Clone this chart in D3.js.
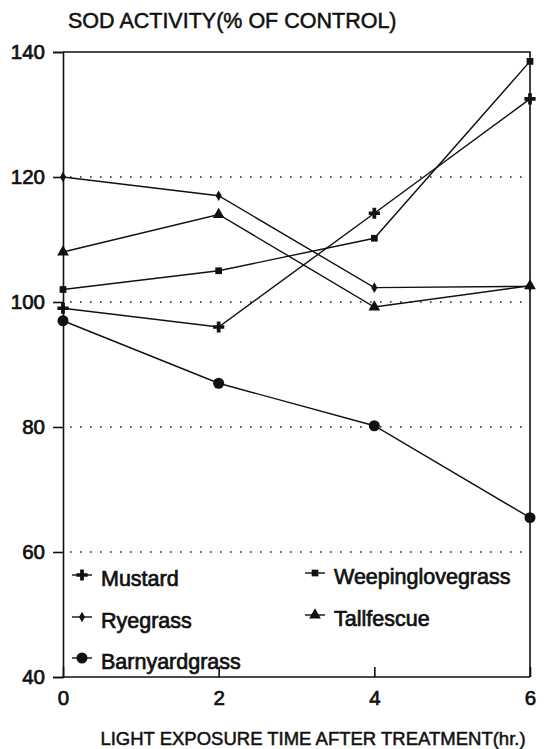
<!DOCTYPE html>
<html>
<head>
<meta charset="utf-8">
<script src="https://cdn.jsdelivr.net/npm/d3@7"></script>
<style>
  body { margin: 0; background: #fff; }
  text { font-family: "Liberation Sans", Arial, sans-serif; fill: #111; }
</style>
</head>
<body>
<svg id="chart" width="546" height="749"></svg>
<script>
// data
const hours = [0, 2, 4, 6];
const mustard = [99, 96, 114.2, 132.5];
const ryegrass = [120, 117, 102.3, 102.5];
const barnyardgrass = [97, 87, 80.2, 65.5];
const weepinglovegrass = [102, 105, 110.2, 138.5];
const tallfescue = [108, 114, 99.2, 102.6];
const yTicks = [40, 60, 80, 100, 120, 140];
const gridVals = [60, 80, 100, 120];

const series = [
  { name: "Mustard", vals: mustard, sym: d3.symbolCross, size: 70 },
  { name: "Ryegrass", vals: ryegrass, sym: d3.symbolDiamond, size: 32 },
  { name: "Barnyardgrass", vals: barnyardgrass, sym: d3.symbolCircle, size: 95 },
  { name: "Weepinglovegrass", vals: weepinglovegrass, sym: d3.symbolSquare, size: 45 },
  { name: "Tallfescue", vals: tallfescue, sym: d3.symbolTriangle, size: 60 }
];

const svg = d3.select("#chart");
const x = d3.scaleLinear().domain([0, 6]).range([63, 530]);
const y = d3.scaleLinear().domain([40, 140]).range([677, 52]);

// dotted grid
svg.append("g").selectAll("line").data(gridVals).join("line")
  .attr("x1", 70).attr("x2", x(6))
  .attr("y1", d => y(d)).attr("y2", d => y(d))
  .attr("stroke", "#222").attr("stroke-width", 1.6)
  .attr("stroke-dasharray", "1.6,8.4");

// frame top + right
svg.append("path")
  .attr("d", `M${x(0)},${y(140)}H${x(6)}V${y(40)}`)
  .attr("fill", "none").attr("stroke", "#111").attr("stroke-width", 1.6);

const yAxis = svg.append("g").attr("transform", `translate(${x(0)},0)`)
  .call(d3.axisLeft(y).tickValues(yTicks).tickSize(10).tickPadding(8));
const xAxis = svg.append("g").attr("transform", `translate(0,${y(40)})`)
  .call(d3.axisBottom(x).tickValues(hours).tickFormat(d3.format("d"))
    .tickSize(-10).tickPadding(13));

[yAxis, xAxis].forEach(a => {
  a.selectAll("path, line").attr("stroke", "#111").attr("stroke-width", 1.6);
  a.selectAll("text").attr("font-size", 20.5).attr("fill", "#111")
    .attr("font-family", "Liberation Sans, Arial, sans-serif")
    .attr("stroke", "#111").attr("stroke-width", 0.7);
});
xAxis.select(".domain").remove();
svg.append("line").attr("x1", x(0)).attr("x2", x(6))
  .attr("y1", y(40)).attr("y2", y(40)).attr("stroke", "#111").attr("stroke-width", 1.6);

// lines and markers
const line = d3.line().x((d, i) => x(hours[i])).y(d => y(d));
series.forEach(s => {
  svg.append("path").attr("d", line(s.vals))
    .attr("fill", "none").attr("stroke", "#111").attr("stroke-width", 1.4);
  svg.append("g").selectAll("path").data(s.vals).join("path")
    .attr("transform", (d, i) => `translate(${x(hours[i])},${y(d)})`)
    .attr("d", d3.symbol().type(s.sym).size(s.size))
    .attr("fill", "#111");
});

// legend
const legendPos = [
  { lx: 82, ly: 575 }, { lx: 82, ly: 617 }, { lx: 82, ly: 658 },
  { lx: 315, ly: 573 }, { lx: 315, ly: 615 }
];
series.forEach((s, i) => {
  const p = legendPos[i];
  svg.append("line").attr("x1", p.lx - 10).attr("x2", p.lx + 10)
    .attr("y1", p.ly).attr("y2", p.ly).attr("stroke", "#111").attr("stroke-width", 1.4);
  svg.append("path").attr("transform", `translate(${p.lx},${p.ly})`)
    .attr("d", d3.symbol().type(s.sym).size(s.size)).attr("fill", "#111");
  svg.append("text").attr("x", p.lx + 19).attr("y", p.ly + 11)
    .attr("font-size", 21.5).attr("stroke", "#111").attr("stroke-width", 0.7)
    .text(s.name);
});

// titles
svg.append("text").attr("x", 68).attr("y", 28).attr("font-size", 21.5)
  .attr("stroke", "#111").attr("stroke-width", 0.5)
  .text("SOD ACTIVITY(% OF CONTROL)");
svg.append("text").attr("x", 313).attr("y", 745).attr("text-anchor", "middle")
  .attr("font-size", 18.5).attr("stroke", "#111").attr("stroke-width", 0.5)
  .text("LIGHT EXPOSURE TIME AFTER TREATMENT(hr.)");
</script>
</body>
</html>
